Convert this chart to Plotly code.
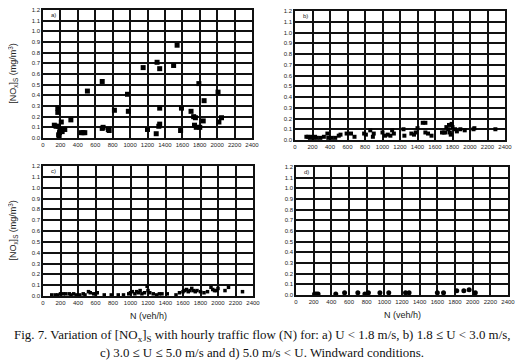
import plotly.graph_objects as go

# Panel a) U < 1.8 m/s
a_N = [130, 150, 170, 170, 175, 180, 185, 190, 195, 210, 220, 200, 250, 320, 440, 460, 480,
       510, 680, 680, 690, 750, 760, 820, 970, 980, 1150, 1200, 1300, 1310, 1340, 1330, 1340,
       1340, 1500, 1540, 1580, 1590, 1700, 1730, 1750, 1740, 1760, 1800, 1790, 1850, 1840,
       2010, 2020, 2050]
a_C = [0.12, 0.11, 0.28, 0.24, 0.11, 0.03, 0.02, 0.05, 0.07, 0.15, 0.06, 0.08, 0.08, 0.17, 0.05, 0.05, 0.05,
       0.44, 0.53, 0.09, 0.10, 0.08, 0.07, 0.26, 0.41, 0.25, 0.66, 0.08, 0.04, 0.71, 0.65, 0.11, 0.13,
       0.28, 0.68, 0.87, 0.07, 0.28, 0.25, 0.20, 0.19, 0.12, 0.10, 0.10, 0.51, 0.35, 0.16,
       0.43, 0.15, 0.19]

# Panel b) 1.8 <= U < 3.0 m/s
b_N = [130, 150, 170, 190, 210, 230, 250, 290, 330, 370, 380, 420, 460, 500, 520,
       590, 640, 680, 790, 810, 860, 890, 900, 1000, 1030, 1060, 1090, 1110, 1130,
       1240, 1250, 1330, 1360, 1380, 1400, 1460, 1490, 1490, 1520, 1560,
       1680, 1700, 1720, 1730, 1750, 1760, 1770, 1780, 1790, 1800, 1830, 1850, 1890, 1940,
       2040, 2050, 2290]
b_C = [0.03, 0.03, 0.02, 0.03, 0.02, 0.03, 0.02, 0.02, 0.03, 0.06, 0.02, 0.02, 0.02, 0.04, 0.05,
       0.06, 0.06, 0.03, 0.06, 0.05, 0.09, 0.03, 0.06, 0.07, 0.04, 0.05, 0.04, 0.09, 0.06,
       0.10, 0.04, 0.06, 0.05, 0.07, 0.11, 0.16, 0.16, 0.07, 0.06, 0.04,
       0.07, 0.07, 0.07, 0.12, 0.10, 0.14, 0.07, 0.05, 0.15, 0.12, 0.10, 0.08, 0.10, 0.09,
       0.10, 0.11, 0.10]

# Panel c) 3.0 <= U <= 5.0 m/s
c_N = [100, 140, 170, 200, 230, 260, 300, 320, 350, 380, 420, 460, 480, 520, 540, 580, 600, 620,
       700, 780, 860, 920, 980, 1000, 1020, 1050, 1070, 1090, 1110, 1130, 1160, 1190, 1200, 1220,
       1260, 1300, 1330, 1360, 1420, 1520, 1560, 1600, 1620, 1640, 1660, 1680, 1700, 1720, 1740,
       1760, 1800, 1840, 1880, 1920, 1940, 1960, 1980, 2000, 2080, 2120, 2280]
c_C = [0.01, 0.01, 0.01, 0.02, 0.02, 0.02, 0.02, 0.01, 0.02, 0.01, 0.01, 0.02, 0.01, 0.04, 0.03, 0.02, 0.02, 0.03,
       0.01, 0.01, 0.01, 0.01, 0.02, 0.03, 0.04, 0.02, 0.04, 0.03, 0.05, 0.02, 0.03, 0.09, 0.05, 0.03,
       0.02, 0.01, 0.02, 0.02, 0.02, 0.01, 0.03, 0.04, 0.05, 0.06, 0.04, 0.05, 0.07, 0.05, 0.04,
       0.05, 0.04, 0.03, 0.04, 0.08, 0.06, 0.05, 0.05, 0.07, 0.05, 0.08, 0.04]

# Panel d) 5.0 m/s < U
d_N = [210, 230, 250, 450, 550, 700, 780, 820, 950, 1050, 1240, 1280, 1600, 1670, 1820, 1900, 1960, 2030]
d_C = [0.01, 0.01, 0.01, 0.01, 0.02, 0.02, 0.01, 0.02, 0.02, 0.02, 0.02, 0.02, 0.02, 0.02, 0.04, 0.04, 0.05, 0.02]

x_ticks = list(range(0, 2401, 200))
y_ticks = [round(i * 0.1, 1) for i in range(13)]
y_labels = ["%.1f" % v for v in y_ticks]
panel_labels = ["a)", "b)", "c)", "d)"]

# The page body has an 8px margin; the figure is sized to fill the rest of the window.
OFF = 8
W, H = 523 - OFF, 364 - OFF
# pixel boxes in page coords (left, right, top, bottom)
boxes = [(43, 252, 10, 138), (295, 505, 11, 140), (43, 253, 166, 296), (296, 508, 167, 295)]

fig = go.Figure()
data = [(a_N, a_C, "square", 5), (b_N, b_C, "square", 4), (c_N, c_C, "square", 3.5), (d_N, d_C, "circle", 5)]
tf = dict(family="Liberation Sans", size=6, color="#222")
for i, (xs, ys, sym, sz) in enumerate(data):
    k = "" if i == 0 else str(i + 1)
    fig.add_trace(go.Scatter(x=xs, y=ys, mode="markers", xaxis="x" + k, yaxis="y" + k,
                             marker=dict(symbol=sym, size=sz, color="black"), showlegend=False,
                             cliponaxis=False))
    l, r, t, b = [v - OFF for v in boxes[i]]
    ax = dict(range=[0, 2400], tickvals=x_ticks, ticktext=[str(v) for v in x_ticks], tickangle=0,
              domain=[l / W, r / W], anchor="y" + k, showgrid=True, gridcolor="#111", gridwidth=1.6,
              showline=True, linecolor="#111", linewidth=1.6, mirror=True, zeroline=False,
              ticks="", ticklen=0, tickfont=tf, automargin=False)
    ay = dict(range=[0, 1.2], tickvals=y_ticks, ticktext=y_labels, tickangle=0,
              domain=[1 - b / H, 1 - t / H], anchor="x" + k, showgrid=True, gridcolor="#111", gridwidth=1.6,
              showline=True, linecolor="#111", linewidth=1.6, mirror=True, zeroline=False,
              ticks="", ticklen=0, tickfont=tf, automargin=False)
    fig.layout["xaxis" + k] = ax
    fig.layout["yaxis" + k] = ay
    fig.add_annotation(x=0.03, y=0.96, xref="x" + k + " domain", yref="y" + k + " domain", text=panel_labels[i],
                       showarrow=False, xanchor="left", yanchor="middle",
                       font=dict(family="Liberation Sans", size=6, color="#222"))

ytitle = "[NO<sub>x</sub>]<sub>S</sub> (mg/m<sup>3</sup>)"
for k in ["", "3"]:
    fig.add_annotation(x=-0.145, y=0.5, xref="x" + k + " domain", yref="y" + k + " domain", text=ytitle,
                       textangle=-90, showarrow=False, xanchor="center", yanchor="middle",
                       font=dict(family="Liberation Sans", size=9, color="#222"))
for k in ["3", "4"]:
    fig.add_annotation(x=0.5, y=-0.155, xref="x" + k + " domain", yref="y" + k + " domain", text="N (veh/h)",
                       showarrow=False, xanchor="center", yanchor="middle",
                       font=dict(family="Liberation Sans", size=9, color="#222"))

cap_font = dict(family="Liberation Serif", size=12.9, color="#111")
fig.add_annotation(x=(261.5 - OFF) / W, y=1 - (336 - OFF) / H, xref="paper", yref="paper",
                   xanchor="center", yanchor="middle",
                   text="Fig. 7. Variation of [NO<sub>x</sub>]<sub>S</sub> with hourly traffic flow (N) for: a) U &lt; 1.8 m/s, b) 1.8 ≤ U &lt; 3.0 m/s,",
                   showarrow=False, font=cap_font)
fig.add_annotation(x=(261.5 - OFF) / W, y=1 - (353 - OFF) / H, xref="paper", yref="paper",
                   xanchor="center", yanchor="middle",
                   text="c) 3.0 ≤ U ≤ 5.0 m/s and d) 5.0 m/s &lt; U. Windward conditions.",
                   showarrow=False, font=cap_font)

fig.update_layout(width=W, height=H, margin=dict(l=0, r=0, t=0, b=0, autoexpand=False),
                  paper_bgcolor="white", plot_bgcolor="white")
fig.write_html("out.html", config={"responsive": False})
